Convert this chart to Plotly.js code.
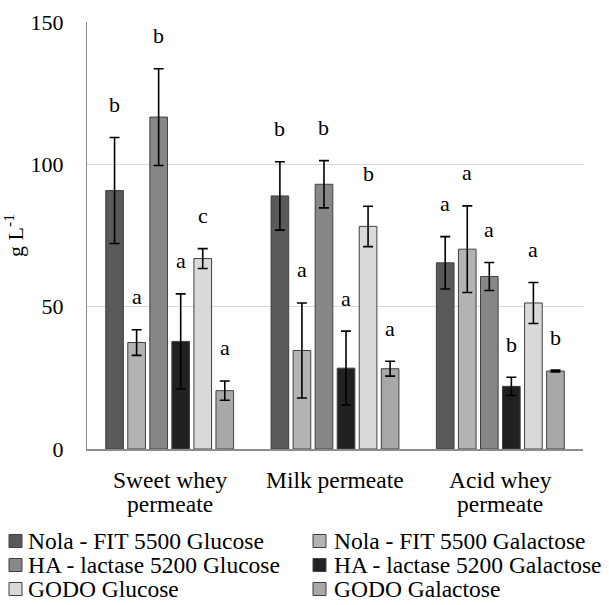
<!DOCTYPE html>
<html>
<head>
<meta charset="utf-8">
<script src="https://cdn.plot.ly/plotly-3.0.1.min.js"></script>
<style>html,body{margin:0;padding:0;background:#fff;}#chart{width:609px;height:605px;}</style>
</head>
<body>
<div id="chart"></div>
<script>
// ---- data ----
const categories = ['Sweet whey<br>permeate', 'Milk permeate', 'Acid whey<br>permeate'];
const seriesNames = ['Nola - FIT 5500 Glucose', 'Nola - FIT 5500 Galactose', 'HA - lactase 5200 Glucose', 'HA - lactase 5200 Galactose', 'GODO Glucose', 'GODO Galactose'];
const nolaGlucose = [90.8, 88.9, 65.4];
const nolaGlucoseErr = [18.6, 12.0, 9.2];
const nolaGlucoseLetters = ['b', 'b', 'a'];
const nolaGalactose = [37.4, 34.6, 70.2];
const nolaGalactoseErr = [4.5, 16.7, 15.2];
const nolaGalactoseLetters = ['a', 'a', 'a'];
const haGlucose = [116.6, 93.0, 60.6];
const haGlucoseErr = [17.0, 8.3, 4.9];
const haGlucoseLetters = ['b', 'b', 'a'];
const haGalactose = [37.8, 28.4, 22.0];
const haGalactoseErr = [16.7, 13.0, 3.2];
const haGalactoseLetters = ['a', 'a', 'b'];
const godoGlucose = [66.9, 78.2, 51.3];
const godoGlucoseErr = [3.5, 7.1, 7.2];
const godoGlucoseLetters = ['c', 'b', 'a'];
const godoGalactose = [20.5, 28.2, 27.4];
const godoGalactoseErr = [3.4, 2.6, 0.3];
const godoGalactoseLetters = ['a', 'a', 'b'];
const yTicks = [0, 50, 100, 150];

// ---- styling ----
const colors = ['#595959', '#b3b3b3', '#878787', '#212121', '#d9d9d9', '#a8a8a8'];
const values = [nolaGlucose, nolaGalactose, haGlucose, haGalactose, godoGlucose, godoGalactose];
const errors = [nolaGlucoseErr, nolaGalactoseErr, haGlucoseErr, haGalactoseErr, godoGlucoseErr, godoGalactoseErr];
const letters = [nolaGlucoseLetters, nolaGalactoseLetters, haGlucoseLetters, haGalactoseLetters, godoGlucoseLetters, godoGalactoseLetters];

const FONT = '"Times New Roman", "Liberation Serif", serif';
const FS = 22;      // ticks, letters, axis title
const FS_TXT = 23.5; // category labels, legend
const W = 609, H = 605;
const margin = {l: 87, r: 26, t: 22, b: 156};
const bargap = 0.2;
const plotW = W - margin.l - margin.r;
const plotH = H - margin.t - margin.b;
const slot = (plotW / categories.length) * (1 - bargap) / values.length;
const px2x = p => (p - margin.l) / plotW;
const py2y = p => (H - margin.b - p) / plotH;

const traces = values.map((v, i) => ({
  type: 'bar',
  name: seriesNames[i],
  x: categories,
  y: v,
  marker: {color: colors[i], line: {color: '#404040', width: 1}},
  error_y: {type: 'data', array: errors[i], visible: true, color: '#000', thickness: 1.6, width: 5},
  hoverinfo: 'none',
  showlegend: false
}));

const annotations = [];
// significance letters above the error bars
values.forEach((v, i) => {
  v.forEach((val, j) => {
    annotations.push({
      x: categories[j], y: val + errors[i][j], xref: 'x', yref: 'y',
      text: letters[i][j], showarrow: false,
      xshift: (i - (values.length - 1) / 2) * slot,
      yshift: 33, yanchor: 'middle',
      font: {family: FONT, size: FS, color: '#000'}
    });
  });
});

// category labels (one annotation per line for tighter line spacing)
const catLineY = [480, 504];
categories.forEach(cat => {
  cat.split('<br>').forEach((line, k) => {
    annotations.push({
      x: cat, xref: 'x', yref: 'paper', y: py2y(catLineY[k]),
      yanchor: 'middle', xanchor: 'center', showarrow: false, text: line,
      font: {family: FONT, size: FS_TXT, color: '#000'}
    });
  });
});

// legend (2 columns x 3 rows)
const legSqX = [9, 313];
const legTextX = [26, 332];
const legRowY = [541, 565, 589];
const sq = 13;
const shapes = [];
seriesNames.forEach((name, i) => {
  const c = i % 2;
  const cy = legRowY[Math.floor(i / 2)];
  shapes.push({
    type: 'rect', xref: 'paper', yref: 'paper',
    x0: px2x(legSqX[c]), x1: px2x(legSqX[c] + sq), y0: py2y(cy + sq / 2), y1: py2y(cy - sq / 2),
    fillcolor: colors[i], line: {color: '#404040', width: 1}
  });
  annotations.push({
    xref: 'paper', yref: 'paper', x: px2x(legTextX[c]), y: py2y(cy),
    xanchor: 'left', yanchor: 'middle', showarrow: false, text: name,
    font: {family: FONT, size: FS_TXT, color: '#000'}
  });
});

const layout = {
  width: W, height: H,
  margin: margin,
  paper_bgcolor: '#fff', plot_bgcolor: '#fff',
  font: {family: FONT, size: FS, color: '#000'},
  barmode: 'group', bargap: bargap, bargroupgap: 0.2,
  showlegend: false,
  xaxis: {
    type: 'category', showline: true, linecolor: '#8c8c8c', linewidth: 2,
    ticks: '', showgrid: false, showticklabels: false
  },
  yaxis: {
    range: [0, 150], tickvals: yTicks, ticktext: yTicks.map(String),
    showline: true, linecolor: '#8c8c8c', linewidth: 1,
    showgrid: true, gridcolor: '#d9d9d9', gridwidth: 1,
    zeroline: false, ticks: 'outside', ticklen: 18, tickcolor: 'rgba(0,0,0,0)',
    tickfont: {family: FONT, size: FS, color: '#000'},
    title: {text: 'g L<sup>-1</sup>', font: {family: FONT, size: FS, color: '#000'}, standoff: 12}
  },
  shapes: shapes,
  annotations: annotations
};

Plotly.newPlot('chart', traces, layout, {displayModeBar: false, staticPlot: true});
</script>
</body>
</html>
